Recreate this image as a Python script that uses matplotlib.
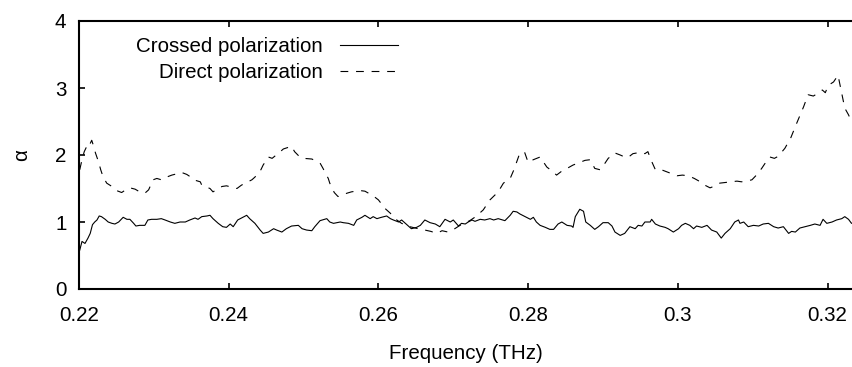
import matplotlib
matplotlib.use("Agg")
import matplotlib.pyplot as plt

# crossed polarization (solid)
crossed_f = [0.2201, 0.2204, 0.2208, 0.2212, 0.2215, 0.2218, 0.2221, 0.2224, 0.2227, 0.2230,
             0.2235, 0.2239, 0.2244, 0.2248, 0.2253, 0.2259, 0.2264, 0.2268, 0.2273, 0.2276,
             0.2281, 0.2288, 0.2292, 0.2297, 0.2304, 0.2310, 0.2315, 0.2322, 0.2328, 0.2335,
             0.2342, 0.2348, 0.2355, 0.2359, 0.2364, 0.2371, 0.2375, 0.2379, 0.2386, 0.2392,
             0.2397, 0.2402, 0.2406, 0.2412, 0.2419, 0.2424, 0.2428, 0.2435, 0.2442, 0.2446,
             0.2453, 0.2460, 0.2464, 0.2471, 0.2477, 0.2484, 0.2493, 0.2498, 0.2504, 0.2511,
             0.2515, 0.2522, 0.2531, 0.2535, 0.2540, 0.2549, 0.2553, 0.2560, 0.2567, 0.2571,
             0.2578, 0.2582, 0.2589, 0.2593, 0.2598, 0.2604, 0.2611, 0.2616, 0.2620, 0.2627,
             0.2631, 0.2636, 0.2640, 0.2644, 0.2651, 0.2656, 0.2662, 0.2669, 0.2676, 0.2682,
             0.2689, 0.2696, 0.2700, 0.2707, 0.2711, 0.2716, 0.2720, 0.2725, 0.2729, 0.2736,
             0.2742, 0.2749, 0.2754, 0.2760, 0.2769, 0.2776, 0.2780, 0.2785, 0.2789, 0.2796,
             0.2803, 0.2807, 0.2811, 0.2816, 0.2823, 0.2829, 0.2834, 0.2840, 0.2845, 0.2852,
             0.2858, 0.2860, 0.2863, 0.2869, 0.2874, 0.2877, 0.2883, 0.2889, 0.2894, 0.2900,
             0.2907, 0.2912, 0.2916, 0.2923, 0.2929, 0.2936, 0.2943, 0.2947, 0.2952, 0.2956,
             0.2963, 0.2965, 0.2970, 0.2976, 0.2983, 0.2987, 0.2994, 0.3001, 0.3005, 0.3010,
             0.3016, 0.3021, 0.3025, 0.3032, 0.3039, 0.3045, 0.3052, 0.3058, 0.3063, 0.3070,
             0.3076, 0.3081, 0.3083, 0.3088, 0.3094, 0.3101, 0.3108, 0.3114, 0.3121, 0.3128,
             0.3134, 0.3141, 0.3148, 0.3152, 0.3157, 0.3163, 0.3170, 0.3177, 0.3183, 0.3190,
             0.3194, 0.3199, 0.3206, 0.3212, 0.3219, 0.3223, 0.3228, 0.3232, 0.3237]
crossed_a = [0.58, 0.71, 0.68, 0.76, 0.83, 0.96, 1.00, 1.03, 1.09, 1.08,
             1.04, 1.00, 0.98, 0.97, 1.00, 1.07, 1.04, 1.04, 0.98, 0.94,
             0.95, 0.95, 1.03, 1.04, 1.04, 1.05, 1.03, 1.00, 0.98, 1.00,
             1.00, 1.03, 1.06, 1.04, 1.08, 1.09, 1.10, 1.05, 0.98, 0.93,
             0.92, 0.97, 0.93, 1.03, 1.07, 1.10, 1.05, 0.98, 0.88, 0.83,
             0.85, 0.90, 0.88, 0.85, 0.90, 0.94, 0.95, 0.90, 0.88, 0.87,
             0.93, 1.02, 1.05, 1.00, 0.98, 1.00, 0.99, 0.98, 0.95, 1.03,
             1.07, 1.10, 1.05, 1.08, 1.05, 1.07, 1.09, 1.05, 1.03, 1.00,
             1.03, 0.98, 0.94, 0.90, 0.92, 0.95, 1.03, 0.99, 0.97, 0.93,
             1.04, 1.00, 1.03, 0.94, 0.98, 0.97, 1.00, 1.03, 1.01, 1.04,
             1.03, 1.05, 1.03, 1.05, 1.02, 1.10, 1.16, 1.15, 1.12, 1.08,
             1.04, 1.07, 1.00, 0.95, 0.92, 0.89, 0.89, 0.97, 1.00, 0.95,
             0.94, 0.92, 1.08, 1.19, 1.16, 1.00, 0.95, 0.89, 0.93, 0.99,
             0.99, 0.94, 0.85, 0.80, 0.83, 0.93, 0.90, 0.95, 0.94, 1.00,
             1.00, 1.04, 0.97, 0.94, 0.92, 0.90, 0.85, 0.90, 0.95, 0.98,
             0.95, 0.90, 0.94, 0.92, 0.95, 0.88, 0.85, 0.76, 0.83, 0.90,
             1.00, 1.03, 0.98, 1.00, 0.93, 0.95, 0.94, 0.97, 0.98, 0.93,
             0.91, 0.93, 0.83, 0.86, 0.85, 0.91, 0.93, 0.95, 0.97, 0.95,
             1.04, 0.98, 1.00, 1.03, 1.05, 1.08, 1.04, 0.98, 1.00]

# direct polarization (dashed)
direct_f = [0.2201, 0.2204, 0.2207, 0.2210, 0.2212, 0.2215, 0.2217, 0.2219, 0.2222, 0.2226,
            0.2229, 0.2232, 0.2237, 0.2244, 0.2250, 0.2257, 0.2261, 0.2268, 0.2275, 0.2281,
            0.2288, 0.2293, 0.2299, 0.2304, 0.2310, 0.2317, 0.2324, 0.2331, 0.2337, 0.2344,
            0.2348, 0.2353, 0.2362, 0.2364, 0.2375, 0.2379, 0.2391, 0.2397, 0.2411, 0.2417,
            0.2431, 0.2435, 0.2443, 0.2446, 0.2453, 0.2458, 0.2469, 0.2473, 0.2484, 0.2488,
            0.2495, 0.2500, 0.2511, 0.2515, 0.2522, 0.2526, 0.2533, 0.2535, 0.2541, 0.2546,
            0.2558, 0.2564, 0.2575, 0.2582, 0.2593, 0.2600, 0.2609, 0.2616, 0.2622, 0.2631,
            0.2642, 0.2653, 0.2662, 0.2670, 0.2678, 0.2685, 0.2693, 0.2702, 0.2709, 0.2722,
            0.2730, 0.2740, 0.2749, 0.2760, 0.2767, 0.2776, 0.2781, 0.2788, 0.2795, 0.2800,
            0.2807, 0.2816, 0.2825, 0.2832, 0.2838, 0.2845, 0.2852, 0.2860, 0.2869, 0.2876,
            0.2883, 0.2889, 0.2896, 0.2901, 0.2907, 0.2916, 0.2923, 0.2929, 0.2933, 0.2940,
            0.2950, 0.2956, 0.2960, 0.2964, 0.2970, 0.2978, 0.2985, 0.2992, 0.2999, 0.3006,
            0.3014, 0.3022, 0.3030, 0.3036, 0.3043, 0.3050, 0.3056, 0.3064, 0.3072, 0.3079,
            0.3085, 0.3092, 0.3099, 0.3105, 0.3112, 0.3118, 0.3123, 0.3129, 0.3134, 0.3143,
            0.3151, 0.3159, 0.3168, 0.3174, 0.3181, 0.3187, 0.3193, 0.3197, 0.3201, 0.3208,
            0.3214, 0.3218, 0.3223, 0.3228, 0.3232, 0.3237]
direct_a = [1.78, 1.93, 2.05, 2.12, 2.10, 2.17, 2.22, 2.15, 2.03, 1.90,
            1.78, 1.68, 1.58, 1.53, 1.47, 1.44, 1.47, 1.51, 1.49, 1.45,
            1.43, 1.48, 1.63, 1.65, 1.63, 1.67, 1.70, 1.72, 1.74, 1.71,
            1.68, 1.63, 1.60, 1.55, 1.50, 1.45, 1.53, 1.54, 1.50, 1.55,
            1.63, 1.67, 1.78, 1.85, 1.97, 1.95, 2.05, 2.09, 2.13, 2.05,
            1.97, 1.95, 1.94, 1.92, 1.88, 1.80, 1.65, 1.58, 1.44, 1.38,
            1.43, 1.45, 1.47, 1.46, 1.39, 1.33, 1.20, 1.13, 1.05, 0.98,
            0.93, 0.90, 0.88, 0.86, 0.83, 0.87, 0.85, 0.90, 0.95, 1.02,
            1.08, 1.18, 1.33, 1.45, 1.58, 1.65, 1.78, 2.00, 2.05, 1.89,
            1.93, 1.97, 1.82, 1.76, 1.70, 1.76, 1.80, 1.85, 1.89, 1.92,
            1.93, 1.80, 1.78, 1.85, 1.95, 2.03, 2.00, 1.97, 1.96, 2.02,
            2.04, 2.02, 2.05, 1.93, 1.78, 1.78, 1.75, 1.72, 1.69, 1.70,
            1.69, 1.65, 1.60, 1.55, 1.51, 1.54, 1.58, 1.59, 1.60, 1.61,
            1.60, 1.61, 1.63, 1.70, 1.80, 1.90, 1.97, 1.95, 1.98, 2.10,
            2.26, 2.48, 2.72, 2.90, 2.88, 2.92, 2.97, 2.93, 3.04, 3.09,
            3.19, 2.97, 2.70, 2.60, 2.50, 2.45]

x_ticks = [0.22, 0.24, 0.26, 0.28, 0.30, 0.32]
x_tick_labels = ["0.22", "0.24", "0.26", "0.28", "0.3", "0.32"]
y_ticks = [0, 1, 2, 3, 4]

plt.rcParams["font.family"] = ["Liberation Sans", "DejaVu Sans"]
plt.rcParams["font.size"] = 14.8

fig = plt.figure(figsize=(8.53, 3.67), dpi=100)
ax = fig.add_axes([79 / 853, 1 - 289 / 367, 774 / 853, 268 / 367])

ax.plot(crossed_f, crossed_a, color="black", lw=0.8, label="Crossed polarization")
ax.plot(direct_f, direct_a, color="black", lw=0.8, dashes=(7, 7),
        label="Direct polarization")

ax.set_xlim(0.22, 0.3234)
ax.set_ylim(0, 4)
ax.set_xticks(x_ticks)
ax.set_xticklabels(x_tick_labels)
ax.set_yticks(y_ticks)

for side in ["left", "top", "bottom"]:
    ax.spines[side].set_linewidth(1.5)
ax.spines["right"].set_visible(False)
ax.tick_params(direction="in", length=4, width=1.2, top=True, right=False)
ax.tick_params(axis="x", pad=12)
ax.tick_params(axis="y", pad=9)

ax.set_xlabel("Frequency (THz)", labelpad=14)
ax.set_ylabel("α", labelpad=17)

ax.legend(loc="upper right", bbox_to_anchor=(0.412, 0.941), frameon=False,
          markerfirst=False, handlelength=2.8, handletextpad=0.85,
          labelspacing=0.35, borderpad=0, borderaxespad=0)

fig.savefig("out.png", dpi=100)
